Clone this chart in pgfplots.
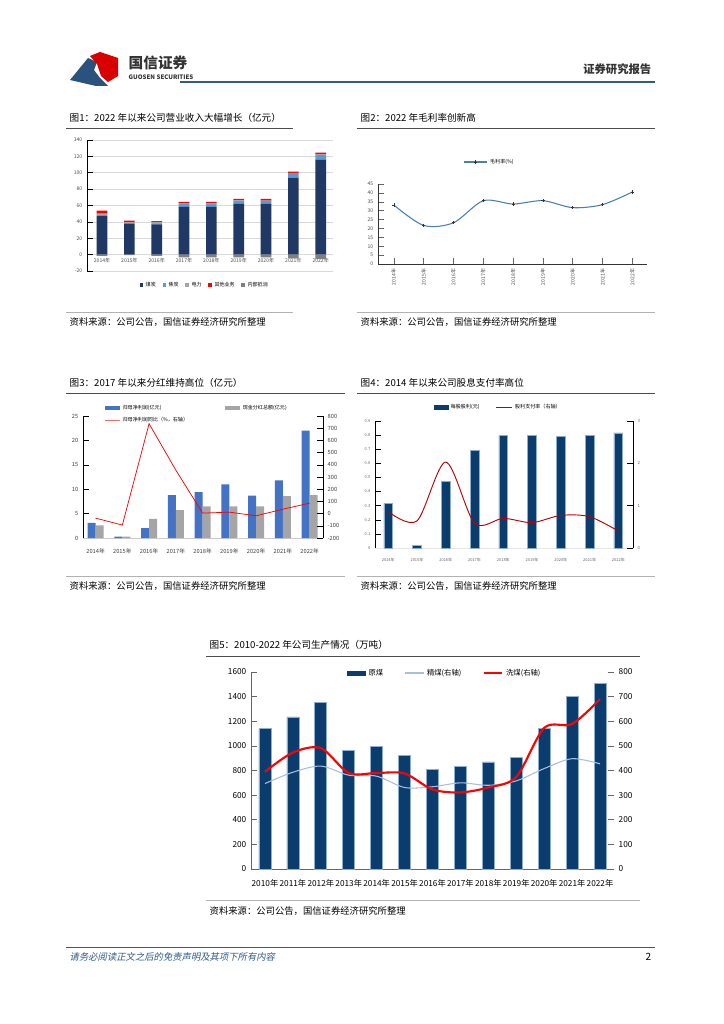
\documentclass[border=0pt]{standalone}
\usepackage{pgfplots}
\pgfplotsset{compat=1.18}
\usepackage{fontspec}
\setmainfont{Noto Sans CJK SC}
\newfontfamily\slcjk[FakeSlant=0.2]{Noto Sans CJK SC}
\definecolor{navy1}{HTML}{1F3864}
\definecolor{lblue}{HTML}{5B9BD5}
\definecolor{mgray}{HTML}{A5A5A5}
\definecolor{dgray}{HTML}{7F7F7F}
\definecolor{bblue}{HTML}{4472C4}
\definecolor{navy2}{HTML}{0B3C6E}
\definecolor{edgeb}{HTML}{8EAED0}
\definecolor{hblue}{HTML}{2E5C8A}
\definecolor{lineb}{HTML}{4A7EBB}
\definecolor{jing}{HTML}{A7BEE0}
\definecolor{dred}{HTML}{C00000}
\pgfplotsset{
  /pgf/number format/assume math mode=true,
  /pgf/number format/1000 sep={},
  tinyfont/.style={tick label style={font=\fontsize{3.8}{4}\selectfont}},
}
\begin{document}
\begin{tikzpicture}[x=0.75pt,y=-0.75pt]
\useasboundingbox (0,0) rectangle (724,1024);
\fill[white] (0,0) rectangle (724,1024);
% ---------- header ----------
\fill[hblue!90!black] (70,80) -- (88,58) -- (97,62) -- (94,70) -- (100,78) -- (108,86) -- (96,86) -- cycle;
\fill[red!85!black] (90,56) -- (100,52) -- (118,58) -- (118,76) -- (108,82) -- (101,76) -- (97,64) -- cycle;
\node[anchor=west,font=\fontsize{11}{12}\selectfont\bfseries,text=black!80] at (124,63) {国信证券};
\node[anchor=west,font=\fontsize{4.6}{5}\selectfont\bfseries,text=black!80] at (124,77) {GUOSEN SECURITIES};
\draw[hblue,line width=1.3pt] (180,82) -- (655,82);
\node[anchor=east,font=\fontsize{8.5}{9}\selectfont\bfseries,text=black!80] at (656,69) {证券研究报告};
% ---------- titles ----------
\node[anchor=west,font=\fontsize{7.2}{8}\selectfont] at (65,118) {图1：2022 年以来公司营业收入大幅增长（亿元）};
\draw[black!70,line width=0.6pt] (66,128) -- (293,128);
\node[anchor=west,font=\fontsize{7.2}{8}\selectfont] at (356,118) {图2：2022 年毛利率创新高};
\draw[black!70,line width=0.6pt] (357,128) -- (655,128);
\draw[black!30,line width=0.4pt] (66,312) -- (293,312);
\draw[black!30,line width=0.4pt] (357,312) -- (655,312);
\node[anchor=west,font=\fontsize{7}{8}\selectfont] at (65,322) {资料来源：公司公告，国信证券经济研究所整理};
\node[anchor=west,font=\fontsize{7}{8}\selectfont] at (356,322) {资料来源：公司公告，国信证券经济研究所整理};
\node[anchor=west,font=\fontsize{7.2}{8}\selectfont] at (65,383) {图3：2017 年以来分红维持高位（亿元）};
\draw[black!70,line width=0.6pt] (66,393) -- (345,393);
\node[anchor=west,font=\fontsize{7.2}{8}\selectfont] at (356,383) {图4：2014 年以来公司股息支付率高位};
\draw[black!70,line width=0.6pt] (357,393) -- (655,393);
\draw[black!30,line width=0.4pt] (66,576) -- (345,576);
\draw[black!30,line width=0.4pt] (357,576) -- (655,576);
\node[anchor=west,font=\fontsize{7}{8}\selectfont] at (65,586) {资料来源：公司公告，国信证券经济研究所整理};
\node[anchor=west,font=\fontsize{7}{8}\selectfont] at (356,586) {资料来源：公司公告，国信证券经济研究所整理};
\node[anchor=west,font=\fontsize{7.2}{8}\selectfont] at (205,645) {图5：2010-2022 年公司生产情况（万吨）};
\draw[black!70,line width=0.6pt] (206,656) -- (640,656);
\draw[black!30,line width=0.4pt] (206,900) -- (640,900);
\node[anchor=west,font=\fontsize{7}{8}\selectfont] at (205,911) {资料来源：公司公告，国信证券经济研究所整理};
% ---------- footer ----------
\draw[hblue,line width=0.6pt] (66,947) -- (655,947);
\node[anchor=west,font=\fontsize{7}{8}\selectfont\slcjk,text=hblue] at (65,957) {请务必阅读正文之后的免责声明及其项下所有内容};
\node[anchor=east,font=\fontsize{7.5}{8}\selectfont] at (656,957) {2};

% ================= Chart 1 =================
\begin{axis}[at={({87*0.75pt},{-271*0.75pt})},anchor=south west,scale only axis,
  width=184.5pt,height=98.25pt,
  xmin=-0.55,xmax=8.45,ymin=-20,ymax=140,
  ytick={-20,0,...,140},
  ymajorgrids,grid style={black!15},
  axis x line*=middle, axis y line*=left,
  axis line style={-},
  x axis line style={draw=none},
  y axis line style={black},
  ybar stacked,bar width=8pt,
  xtick={0,...,8},xtick style={draw=none},
  ytick style={black,thin},
  xticklabels={2014年,2015年,2016年,2017年,2018年,2019年,2020年,2021年,2022年},
  tinyfont,
  xticklabel style={yshift=1pt,text=black!70},
  yticklabel style={text=black!70},
  legend style={at={(0.48,-0.107)},anchor=center,draw=none,
    legend columns=5,font=\fontsize{3.8}{4}\selectfont,
    /tikz/every even column/.append style={column sep=3pt}},
  legend image code/.code={\fill[#1] (0pt,-1.2pt) rectangle (2.6pt,1.4pt);},
]
\addplot[fill=navy1,draw=none] coordinates {(0,47.5)(1,38)(2,37)(3,58.4)(4,58.4)(5,62)(6,62)(7,94)(8,115.7)};
\addplot[fill=lblue,draw=none] coordinates {(0,0.5)(1,0.5)(2,0.5)(3,3.6)(4,3.6)(5,3.7)(6,3.5)(7,5.4)(8,6.1)};
\addplot[fill=mgray,draw=none] coordinates {(0,2)(1,1)(2,2.5)(3,1)(4,0.5)(5,0.5)(6,0.5)(7,0.5)(8,0.5)};
\addplot[fill=red,draw=none] coordinates {(0,3.6)(1,2)(2,1)(3,1.5)(4,2)(5,1.8)(6,2)(7,1.6)(8,2.2)};
\addlegendimage{fill=dgray,draw=none}
\legend{煤炭,焦炭,电力,其他业务,内部抵消}
\end{axis}
\begin{axis}[at={({87*0.75pt},{-271*0.75pt})},anchor=south west,scale only axis,
  width=184.5pt,height=98.25pt,
  xmin=-0.55,xmax=8.45,ymin=-20,ymax=140,hide axis,
  ybar,bar width=8pt]
\addplot[fill=dgray,draw=none] coordinates {(0,-1.5)(1,-0.5)(2,-1.5)(3,-3.5)(4,-3.5)(5,-3.5)(6,-3.5)(7,-4.5)(8,-5.5)};
\end{axis}

% ================= Chart 2 =================
\begin{axis}[at={({378*0.75pt},{-264*0.75pt})},anchor=south west,scale only axis,
  width=201.75pt,height=60pt,
  xmin=-0.53,xmax=8.49,ymin=0,ymax=45,
  ytick={0,5,...,45},
  axis x line*=bottom, axis y line*=left,
  axis line style={-,black!80},
  xtick={0,...,8},
  xticklabels={2014年,2015年,2016年,2017年,2018年,2019年,2020年,2021年,2022年},
  xticklabel style={rotate=90,anchor=east,text=black!70},
  yticklabel style={text=black!70},
  tinyfont,
  tick style={black!60,thin},
  legend style={at={(0.416,1.275)},anchor=center,draw=none,
    font=\fontsize{3.8}{4}\selectfont},
]
\addplot[lineb,thick,smooth,mark=+,mark size=1.2pt,mark options={black!80,thin}]
  coordinates {(0,33.2)(1,21.7)(2,23.2)(3,35.6)(4,33.75)(5,35.6)(6,31.7)(7,33.4)(8,40.5)};
\legend{毛利率(\%)}
\end{axis}

% ================= Chart 3 =================
\begin{axis}[at={({83*0.75pt},{-538*0.75pt})},anchor=south west,scale only axis,
  width=180pt,height=91.5pt,
  xmin=-0.47,xmax=8.5,ymin=0,ymax=25,
  ytick={0,5,...,25},
  axis x line*=bottom, axis y line*=left,
  axis line style={-,black},
  x axis line style={draw=black!20},
  xtick={0,...,8},xtick style={draw=none},
  xticklabels={2014年,2015年,2016年,2017年,2018年,2019年,2020年,2021年,2022年},
  tick label style={font=\fontsize{4.3}{5}\selectfont,text=black!75},
  ytick style={black,thin},
  ybar=0pt,bar width=6pt,
  legend style={at={(0.475,1.016)},anchor=center,draw=none,fill=none,
    legend columns=2,font=\fontsize{3.8}{4}\selectfont,
    /tikz/every even column/.append style={column sep=26pt}},
  legend cell align=left,
]
\addplot[fill=bblue,draw=none,legend image code/.code={\fill[bblue] (0pt,-1.6pt) rectangle (11pt,1.6pt);}] coordinates {(0,3.1)(1,0.3)(2,2.0)(3,8.8)(4,9.4)(5,11.0)(6,8.7)(7,11.8)(8,22.0)};
\addplot[fill=mgray,draw=none,legend image code/.code={\fill[mgray] (0pt,-1.6pt) rectangle (11pt,1.6pt);}] coordinates {(0,2.6)(1,0.3)(2,3.9)(3,5.7)(4,6.5)(5,6.5)(6,6.5)(7,8.6)(8,8.8)};
\addlegendimage{legend image code/.code={\draw[red!60,line width=0.5pt] (0pt,0pt) -- (11pt,0pt);}}
\legend{归母净利润(亿元),现金分红总额(亿元),归母净利润同比（\%，右轴）}
\end{axis}
\begin{axis}[at={({83*0.75pt},{-538*0.75pt})},anchor=south west,scale only axis,
  width=180pt,height=91.5pt,
  xmin=-0.47,xmax=8.5,ymin=-200,ymax=800,
  ytick={-200,-100,...,800},
  axis x line=none, axis y line*=right,
  axis line style={-,black},
  tick label style={font=\fontsize{4.3}{5}\selectfont,text=black!75},
  ytick style={black,thin},
]
\addplot[red,line width=0.55pt] coordinates {(0,-37)(1,-94)(2,737)(3,356)(4,4)(5,12)(6,-18)(7,36)(8,86)};
\end{axis}

% ================= Chart 4 =================
\begin{axis}[at={({375*0.75pt},{-548*0.75pt})},anchor=south west,scale only axis,
  width=193.5pt,height=95.25pt,
  xmin=-0.46,xmax=8.51,ymin=0,ymax=0.9,
  ytick={0,0.1,...,0.9},
  axis x line*=bottom, axis y line*=left,
  axis line style={-,black},
  x axis line style={draw=black!10},
  xtick={0,...,8},
  xticklabels={2014年,2015年,2016年,2017年,2018年,2019年,2020年,2021年,2022年},
  tick label style={font=\fontsize{3}{3.5}\selectfont,text=black!60},
  xtick style={draw=none},
  extra x ticks={0.5,1.5,...,7.5},extra x tick labels={},
  extra x tick style={tick style={black,thin}},
  ytick style={black,thin},
  yticklabel style={/pgf/number format/fixed,/pgf/number format/precision=1},
  ybar,bar width=6.6pt,
  legend style={at={(0.48,1.11)},anchor=center,draw=none,fill=none,
    legend columns=2,font=\fontsize{3.8}{4}\selectfont,
    /tikz/every even column/.append style={column sep=10pt}},
]
\addplot[fill=navy2,draw=edgeb,line width=0.4pt,legend image code/.code={\fill[navy2] (0pt,-1.4pt) rectangle (10pt,1.4pt);}] coordinates {(0,0.317)(1,0.016)(2,0.474)(3,0.692)(4,0.796)(5,0.796)(6,0.791)(7,0.796)(8,0.815)};
\addlegendimage{legend image code/.code={\draw[dred,line width=0.7pt] (0pt,0pt) -- (12pt,0pt);}}
\legend{每股股利(元),股利支付率（右轴）}
\end{axis}
\begin{axis}[at={({375*0.75pt},{-548*0.75pt})},anchor=south west,scale only axis,
  width=193.5pt,height=95.25pt,
  xmin=-0.46,xmax=8.51,ymin=0,ymax=3,
  ytick={0,1,2,3},
  axis x line=none, axis y line*=right,
  axis line style={-,black,line width=0.7pt},
  tick label style={font=\fontsize{3.3}{4}\selectfont,text=black!60},
  ytick style={black,thin},
]
\addplot[dred,line width=0.7pt,smooth] coordinates {(0,0.86)(1,0.64)(2,2.03)(3,0.59)(4,0.70)(5,0.60)(6,0.77)(7,0.74)(8,0.40)};
\end{axis}

% ================= Chart 5 =================
\begin{axis}[at={({251*0.75pt},{-869*0.75pt})},anchor=south west,scale only axis,
  width=272.25pt,height=147.75pt,
  xmin=-0.5,xmax=12.5,ymin=0,ymax=1600,
  ytick={0,200,...,1600},
  axis x line*=bottom, axis y line*=left,
  axis line style={-,black!60},
  xtick={0,...,12},xtick style={draw=none},
  extra x ticks={0.5,1.5,...,11.5},extra x tick labels={},
  extra x tick style={tick style={black!60,thin}},
  xticklabels={2010年,2011年,2012年,2013年,2014年,2015年,2016年,2017年,2018年,2019年,2020年,2021年,2022年},
  tick label style={font=\fontsize{6.2}{7}\selectfont},
  xticklabel style={inner xsep=0pt},
  ytick style={black!60,thin},
  ybar,bar width=9pt,
  legend style={at={(0.534,0.995)},anchor=center,draw=none,fill=none,
    legend columns=3,font=\fontsize{5.5}{6}\selectfont,
    /tikz/every even column/.append style={column sep=14pt}},
]
\addplot[fill=navy2,draw=edgeb,line width=0.5pt,
  legend image code/.code={\fill[navy2] (0pt,-1.5pt) rectangle (14pt,1.5pt);}]
  coordinates {(0,1140)(1,1235)(2,1350)(3,960)(4,995)(5,925)(6,810)(7,830)(8,870)(9,905)(10,1140)(11,1405)(12,1510)};
\addlegendimage{legend image code/.code={\draw[jing,line width=0.8pt] (0pt,0pt) -- (14pt,0pt);}}
\addlegendimage{legend image code/.code={\draw[red,line width=1.6pt] (0pt,0pt) -- (14pt,0pt);}}
\legend{原煤,精煤(右轴),洗煤(右轴)}
\end{axis}
\begin{axis}[at={({251*0.75pt},{-869*0.75pt})},anchor=south west,scale only axis,
  width=272.25pt,height=147.75pt,
  xmin=-0.5,xmax=12.5,ymin=0,ymax=800,
  ytick={0,100,...,800},
  axis x line=none, axis y line*=right,
  axis line style={draw=none},
  tick label style={font=\fontsize{6.2}{7}\selectfont},
  ytick style={black!60,thin},
]
\addplot[jing,line width=0.8pt,smooth] coordinates {(0,347)(1,393)(2,418)(3,381)(4,377)(5,331)(6,334)(7,350)(8,340)(9,358)(10,408)(11,448)(12,427)};
\addplot[red,line width=1.6pt,smooth] coordinates {(0,395)(1,473)(2,491)(3,390)(4,390)(5,388)(6,323)(7,311)(8,331)(9,374)(10,573)(11,589)(12,690)};
\end{axis}
\end{tikzpicture}
\end{document}
